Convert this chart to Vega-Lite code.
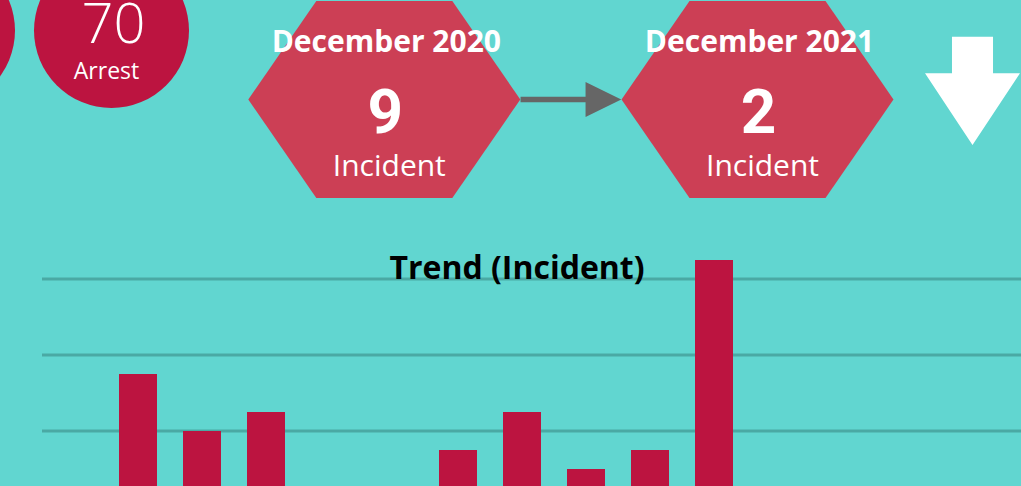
{
  "$schema": "https://vega.github.io/schema/vega-lite/v6.json",
  "width": 979,
  "height": 486,
  "autosize": {"type": "none"},
  "padding": {"left": 42, "top": 0, "right": 0, "bottom": 0},
  "background": "#61D6D0",
  "config": {"view": {"stroke": null}},
  "datasets": {
    "trend": [
      {"month": "Apr 2021", "incidents": 0},
      {"month": "May 2021", "incidents": 7},
      {"month": "Jun 2021", "incidents": 4},
      {"month": "Jul 2021", "incidents": 5},
      {"month": "Aug 2021", "incidents": 0},
      {"month": "Sep 2021", "incidents": 0},
      {"month": "Oct 2021", "incidents": 3},
      {"month": "Nov 2021", "incidents": 5},
      {"month": "Dec 2021", "incidents": 2},
      {"month": "Jan 2022", "incidents": 3},
      {"month": "Feb 2022", "incidents": 13},
      {"month": "Mar 2022", "incidents": 0}
    ],
    "gridlines": [
      {"tick": 4},
      {"tick": 8},
      {"tick": 12}
    ],
    "kpi": [
      {"pos": 0, "group": "totals", "kind": "circle", "period": "", "value": "", "unit": ""},
      {"pos": 1, "group": "totals", "kind": "circle", "period": "", "value": "70", "unit": "Arrest"},
      {"pos": 2, "group": "monthly", "kind": "hexagon", "period": "December 2020", "value": "9", "unit": "Incident"},
      {"pos": 2.5, "group": "monthly", "kind": "arrow", "period": "", "value": "", "unit": ""},
      {"pos": 3, "group": "monthly", "kind": "hexagon", "period": "December 2021", "value": "2", "unit": "Incident"},
      {"pos": 4, "group": "monthly", "kind": "down", "period": "", "value": "", "unit": ""}
    ]
  },
  "layer": [
    {
      "layer": [
        {
          "data": {"name": "gridlines"},
          "mark": {"type": "rule", "color": "#4AA9A4", "strokeWidth": 3},
          "encoding": {
            "y": {
              "field": "tick", "type": "quantitative", "axis": null,
              "scale": {"domain": [1.1053, 26.684], "zero": false, "nice": false}
            }
          }
        },
        {
          "data": {"name": "trend"},
          "mark": {"type": "bar", "color": "#BC1440", "clip": true},
          "encoding": {
            "x": {
              "field": "month", "type": "nominal", "sort": null, "axis": null,
              "scale": {
                "type": "band",
                "domain": ["Apr 2021", "May 2021", "Jun 2021", "Jul 2021", "Aug 2021", "Sep 2021", "Oct 2021", "Nov 2021", "Dec 2021", "Jan 2022", "Feb 2022", "Mar 2022"],
                "range": [0, 768],
                "paddingInner": 0.40625,
                "paddingOuter": 0.203125
              }
            },
            "y": {"field": "incidents", "type": "quantitative", "axis": null},
            "y2": {"datum": 0}
          }
        },
        {
          "data": {"values": [{"title": "Trend (Incident)"}]},
          "mark": {"type": "text", "font": "Open Sans", "fontSize": 32, "fontWeight": "bold", "color": "#000000", "baseline": "alphabetic", "align": "center", "dx": -5},
          "encoding": {
            "x": {"datum": "Nov 2021", "type": "nominal"},
            "y": {"datum": 12, "type": "quantitative"},
            "text": {"field": "title"}
          }
        }
      ]
    },
    {
      "data": {"name": "kpi"},
      "encoding": {
        "x": {
          "field": "pos", "type": "quantitative", "axis": null,
          "scale": {"domain": [0, 1, 2, 3, 4], "range": [-104.5, 69.5, 342.3, 715.5, 930.5], "zero": false, "nice": false}
        },
        "y": {
          "field": "group", "type": "nominal", "axis": null,
          "scale": {"type": "point", "domain": ["totals", "monthly"], "range": [30.5, 99.5], "padding": 0}
        }
      },
      "layer": [
        {
          "mark": {"type": "point", "filled": true, "opacity": 1, "strokeWidth": 0},
          "encoding": {
            "shape": {
              "field": "kind", "type": "nominal", "legend": null,
              "scale": {
                "domain": ["circle", "hexagon", "arrow", "down"],
                "range": [
                  "circle",
                  "M-1,0L-0.5,-0.724L0.5,-0.724L1,0L0.5,0.724L-0.5,0.724Z",
                  "M-1,-0.056L0.291,-0.056L0.291,-0.348L1,0L0.291,0.348L0.291,0.056L-1,0.056Z",
                  "M-0.379,-1.16L0.379,-1.16L0.379,-0.484L0.877,-0.484L0,0.84L-0.877,-0.484L-0.379,-0.484Z"
                ]
              }
            },
            "size": {
              "field": "kind", "type": "ordinal", "legend": null,
              "scale": {"type": "ordinal", "domain": ["circle", "hexagon", "arrow", "down"], "range": [24025, 73984, 10140, 11729]}
            },
            "color": {
              "field": "kind", "type": "nominal", "legend": null,
              "scale": {"domain": ["circle", "hexagon", "arrow", "down"], "range": ["#BC1440", "#CC3F55", "#666666", "#FFFFFF"]}
            }
          }
        },
        {
          "transform": [{"filter": "datum.kind === 'circle'"}],
          "mark": {"type": "text", "font": "Open Sans", "fontSize": 56, "fontWeight": 300, "color": "#FFFFFF", "baseline": "alphabetic", "align": "center", "dy": 12.8, "dx": 2},
          "encoding": {"text": {"field": "value"}}
        },
        {
          "transform": [{"filter": "datum.kind === 'circle'"}],
          "mark": {"type": "text", "font": "Open Sans", "fontSize": 23, "color": "#FFFFFF", "baseline": "alphabetic", "align": "center", "dy": 48.8, "dx": -5},
          "encoding": {"text": {"field": "unit"}}
        },
        {
          "transform": [{"filter": "datum.kind === 'hexagon'"}],
          "mark": {"type": "text", "font": "Open Sans", "fontSize": 30, "fontWeight": "bold", "color": "#FFFFFF", "baseline": "alphabetic", "align": "center", "dy": -47.5, "dx": 2},
          "encoding": {"text": {"field": "period"}}
        },
        {
          "transform": [{"filter": "datum.kind === 'hexagon'"}],
          "mark": {"type": "text", "font": "Roboto", "fontSize": 62, "fontWeight": "bold", "color": "#FFFFFF", "baseline": "alphabetic", "align": "center", "dy": 33.5, "dx": 1},
          "encoding": {"text": {"field": "value"}}
        },
        {
          "transform": [{"filter": "datum.kind === 'hexagon'"}],
          "mark": {"type": "text", "font": "Open Sans", "fontSize": 30, "color": "#FFFFFF", "baseline": "alphabetic", "align": "center", "dy": 76.5, "dx": 5},
          "encoding": {"text": {"field": "unit"}}
        }
      ]
    }
  ],
  "resolve": {"scale": {"x": "independent", "y": "independent"}}
}
